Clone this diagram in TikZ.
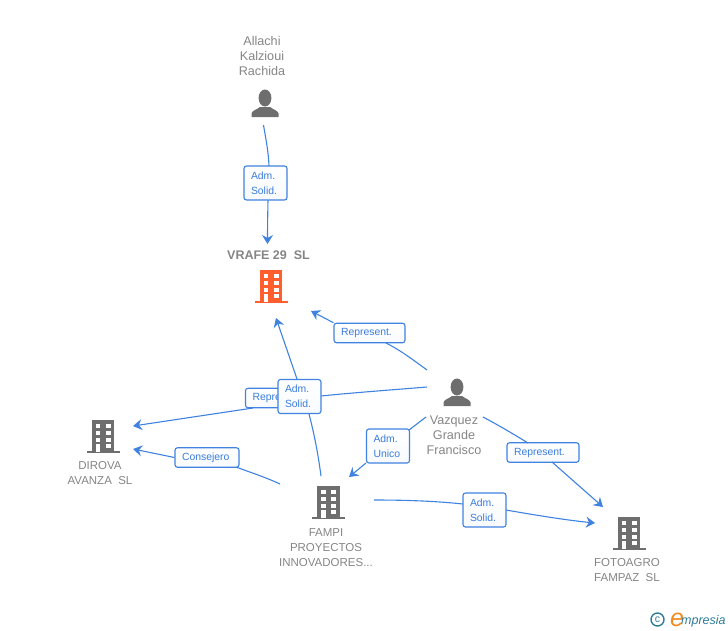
\documentclass[tikz,border=0pt]{standalone}
\usepackage{fontspec}
\setmainfont{Liberation Sans}
\usetikzlibrary{arrows.meta}
\definecolor{linkblue}{HTML}{3F82E0}
\definecolor{labblue}{HTML}{3A7DDC}
\definecolor{namegray}{HTML}{858585}
\definecolor{icongray}{HTML}{6E6E6E}
\definecolor{orangebld}{HTML}{FF5F2E}
\definecolor{logoteal}{HTML}{2F7C99}
\definecolor{logoorange}{HTML}{F28A1E}
\tikzset{
  x=1pt,y=-1pt,
  conn/.style={draw=linkblue,line width=1.1pt,-{Stealth[length=9pt,width=11pt,inset=3pt]}},
  seg/.style={draw=linkblue,line width=1.1pt},
  lab/.style={draw=linkblue,line width=1.1pt,rounded corners=2.5pt,fill=white,text=labblue,
    font=\fontsize{10.4}{15}\selectfont,align=left,inner xsep=7pt,inner ysep=1pt,
    top color=white,bottom color=white!96!linkblue},
  labtwo/.style={lab,text width=29pt,minimum height=34pt},
  labone/.style={lab,minimum height=19.5pt},
  nametxt/.style={text=namegray,font=\fontsize{11.5}{15}\selectfont,align=center,inner sep=0pt},
  persontxt/.style={nametxt,font=\fontsize{12.6}{15}\selectfont},
  person/.pic={
    \fill[icongray] (0,-19) ellipse (6.4 and 8.5);
    \fill[icongray] (-13.5,0) -- (-13.5,-3.5) .. controls (-13,-6.5) and (-8,-7.5) .. (-5,-10)
      -- (5,-10) .. controls (8,-7.5) and (13,-6.5) .. (13.5,-3.5) -- (13.5,0) -- cycle;
  },
  building/.pic={
    \fill[#1] (-11.2,0) rectangle (11.2,-33);
    \fill[#1] (-16.5,0) rectangle (16.5,-2);
    \foreach \yy in {-29,-22,-15}{
      \fill[white] (-7.5,\yy) rectangle (-2.6,\yy+4.2);
      \fill[white] (2.6,\yy) rectangle (7.5,\yy+4.2);
    }
    \fill[white] (2.6,-9) rectangle (7.5,-4.6);
    \fill[white] (-7.5,-9) rectangle (-2.6,-1.5);
  }
}
\begin{document}
\begin{tikzpicture}
\useasboundingbox (0,0) rectangle (728,630);
% icons
\coordinate (iconA) at (265,117);
\coordinate (iconV) at (457,406);
\coordinate (iconR) at (271,303);
\coordinate (iconD) at (103,453);
\coordinate (iconF) at (328.5,519);
\coordinate (iconO) at (629,550);
\pic at (iconA) {person};
\pic at (iconV) {person};
\pic at (iconR) {building=orangebld};
\pic at (iconD) {building=icongray};
\pic at (iconF) {building=icongray};
\pic at (iconO) {building=icongray};
% names
\node[persontxt] (nA) at (262,56) {Allachi\\Kalzioui\\Rachida};
\node[nametxt,font=\fontsize{12.5}{15}\selectfont\bfseries] (nR) at (268.5,255) {VRAFE 29\ \ SL};
\node[nametxt] (nD) at (100,473) {DIROVA\\AVANZA\ \ SL};
\node[nametxt] (nF) at (326,547.5) {FAMPI\\PROYECTOS\\INNOVADORES...};
\node[persontxt] (nV) at (454,435) {Vazquez\\Grande\\Francisco};
\node[nametxt] (nO) at (627,570) {FOTOAGRO\\FAMPAZ\ \ SL};
% free ends
\coordinate (sA) at (263.5,125);
\coordinate (tR1) at (267.5,244);
\coordinate (sV1) at (427,370);
\coordinate (tR2) at (311,311);
\coordinate (sV2) at (427,387);
\coordinate (tD1) at (133,426);
\coordinate (sF1) at (321,476);
\coordinate (tR3) at (276,318);
\coordinate (sF2) at (280,484);
\coordinate (tD2) at (133,449);
\coordinate (sV3) at (426,417);
\coordinate (tF) at (349,477);
\coordinate (sV4) at (483,417);
\coordinate (tO1) at (603,507);
\coordinate (sF3) at (374,500);
\coordinate (tO2) at (595,523);
% labels
\node[labone,text width=57pt] (l3) at (281,398) {Represent.};
\node[labone,text width=57pt] (l2) at (369.5,333) {Represent.};
\node[labone,text width=50pt] (l5) at (207,457.5) {Consejero};
\node[labone,text width=58pt] (l7) at (543,452.5) {Represent.};
% connectors
\draw[seg] (sA) .. controls (266,140) and (268.5,152) .. (269,166);
\draw[conn] (268,200) .. controls (267.7,215) and (267.5,230) .. (tR1);
\draw[seg] (sV1) .. controls (412,359) and (400,350) .. (386,343);
\draw[conn] (l2.north west) -- (tR2);
\draw[seg] (sV2) .. controls (390,390) and (350,393) .. (321,396);
\draw[conn] (253,408) -- (tD1);
\draw[seg] (sF1) .. controls (318,453) and (314,433) .. (309,414);
\draw[conn] (297,379) -- (tR3);
\draw[seg] (sF2) .. controls (265,477) and (252,473) .. (236,467);
\draw[conn] (l5.west) -- (tD2);
\draw[seg] (sV3) -- (409,430);
\draw[conn] (366,463) -- (tF);
\draw[seg] (sV4) .. controls (500,426) and (515,435) .. (528,443);
\draw[conn] (552,462) -- (tO1);
\draw[seg] (sF3) .. controls (405,500) and (435,501) .. (463,504);
\draw[conn] (506,510) .. controls (535,515) and (565,520) .. (tO2);
% two-line labels
\node[labtwo] (l1) at (265.5,183) {Adm.\\Solid.};
\node[labtwo] (l4) at (299.5,396.5) {Adm.\\Solid.};
\node[labtwo] (l6) at (388,446) {Adm.\\Unico};
\node[labtwo] (l8) at (484.5,510) {Adm.\\Solid.};
% logo
\node[circle,draw=logoteal,line width=1.4pt,inner sep=0pt,minimum size=13pt,text=logoteal,font=\fontsize{10.5}{10.5}\selectfont] (logoC) at (657.5,619.5) {c};
\node[anchor=base west,inner sep=0pt,text=logoorange,font=\fontsize{25}{25}\selectfont\itshape] (logoE) at (670,626) {e};
\node[anchor=base west,inner sep=0pt,text=logoteal,font=\fontsize{12.5}{12.5}\selectfont\itshape] (logoT) at (681,624) {mpresia};
\end{tikzpicture}
\end{document}
